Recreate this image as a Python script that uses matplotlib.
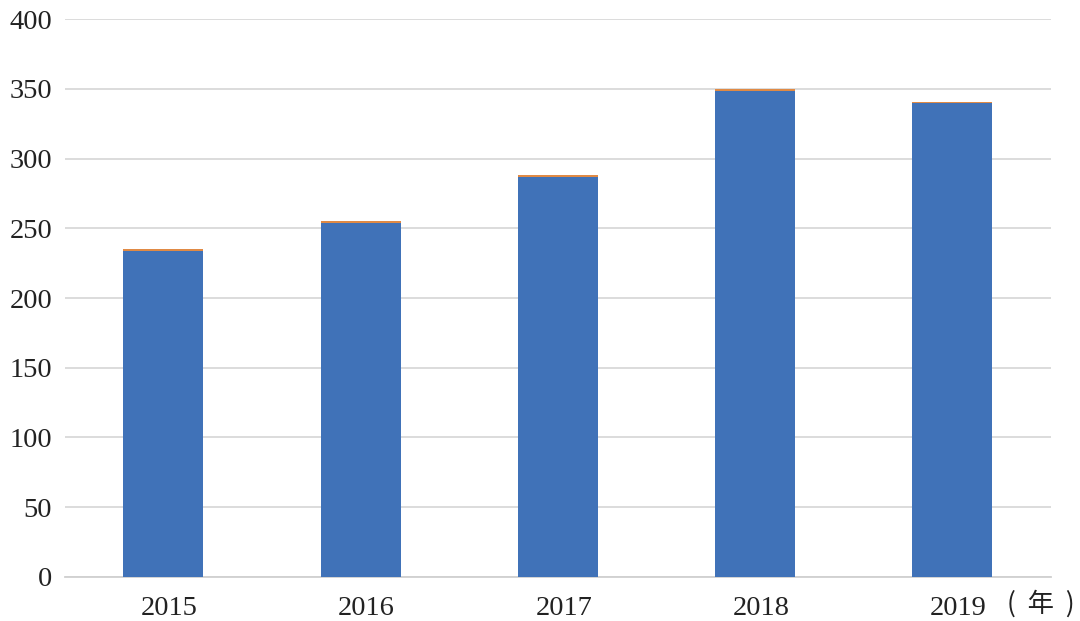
import matplotlib.pyplot as plt
import matplotlib.transforms as mtransforms
import numpy as np

years = ["2015", "2016", "2017", "2018", "2019"]
main_vals = [233.5, 253.8, 286.8, 348.8, 339.8]
top_vals = [1.6, 1.3, 1.2, 1.2, 1.1]

plt.rcParams['font.family'] = ['Liberation Serif', 'Noto Sans CJK SC']

fig = plt.figure(figsize=(10.8, 6.21), dpi=100)
ax = fig.add_axes([0.060, 0.071, 0.913, 0.898])

x = np.arange(len(years))
ax.bar(x, main_vals, width=0.405, color="#4072b8", zorder=3)
ax.bar(x, top_vals, width=0.405, bottom=main_vals, color="#e08a45", zorder=3)

ax.set_xlim(-0.5, len(years) - 0.5)
ax.set_ylim(0, 400)
ax.set_yticks(range(0, 401, 50))
ax.set_xticks(x)
ax.set_xticklabels(years)
ax.yaxis.grid(True, color="#d9d9d9", linewidth=1.3, zorder=0)
for s in ["top", "right", "left"]:
    ax.spines[s].set_visible(False)
ax.spines["bottom"].set_color("#d0d0d0")
ax.spines["bottom"].set_linewidth(1.3)
ax.tick_params(axis="both", length=0, labelsize=20.5, colors="#222222")
ax.tick_params(axis="x", pad=14)
ax.tick_params(axis="y", pad=9)

# x labels sit a little right of the bar centres in the original
shift = mtransforms.ScaledTranslation(6 / 100, 0, fig.dpi_scale_trans)
for lbl in ax.get_xticklabels():
    lbl.set_transform(lbl.get_transform() + shift)

fig.text(0.995, 0.027, "(  年  )", ha="right", va="center", fontsize=19,
         family=['Noto Sans CJK SC'], color="#222222")

fig.savefig("out.png", dpi=100)
